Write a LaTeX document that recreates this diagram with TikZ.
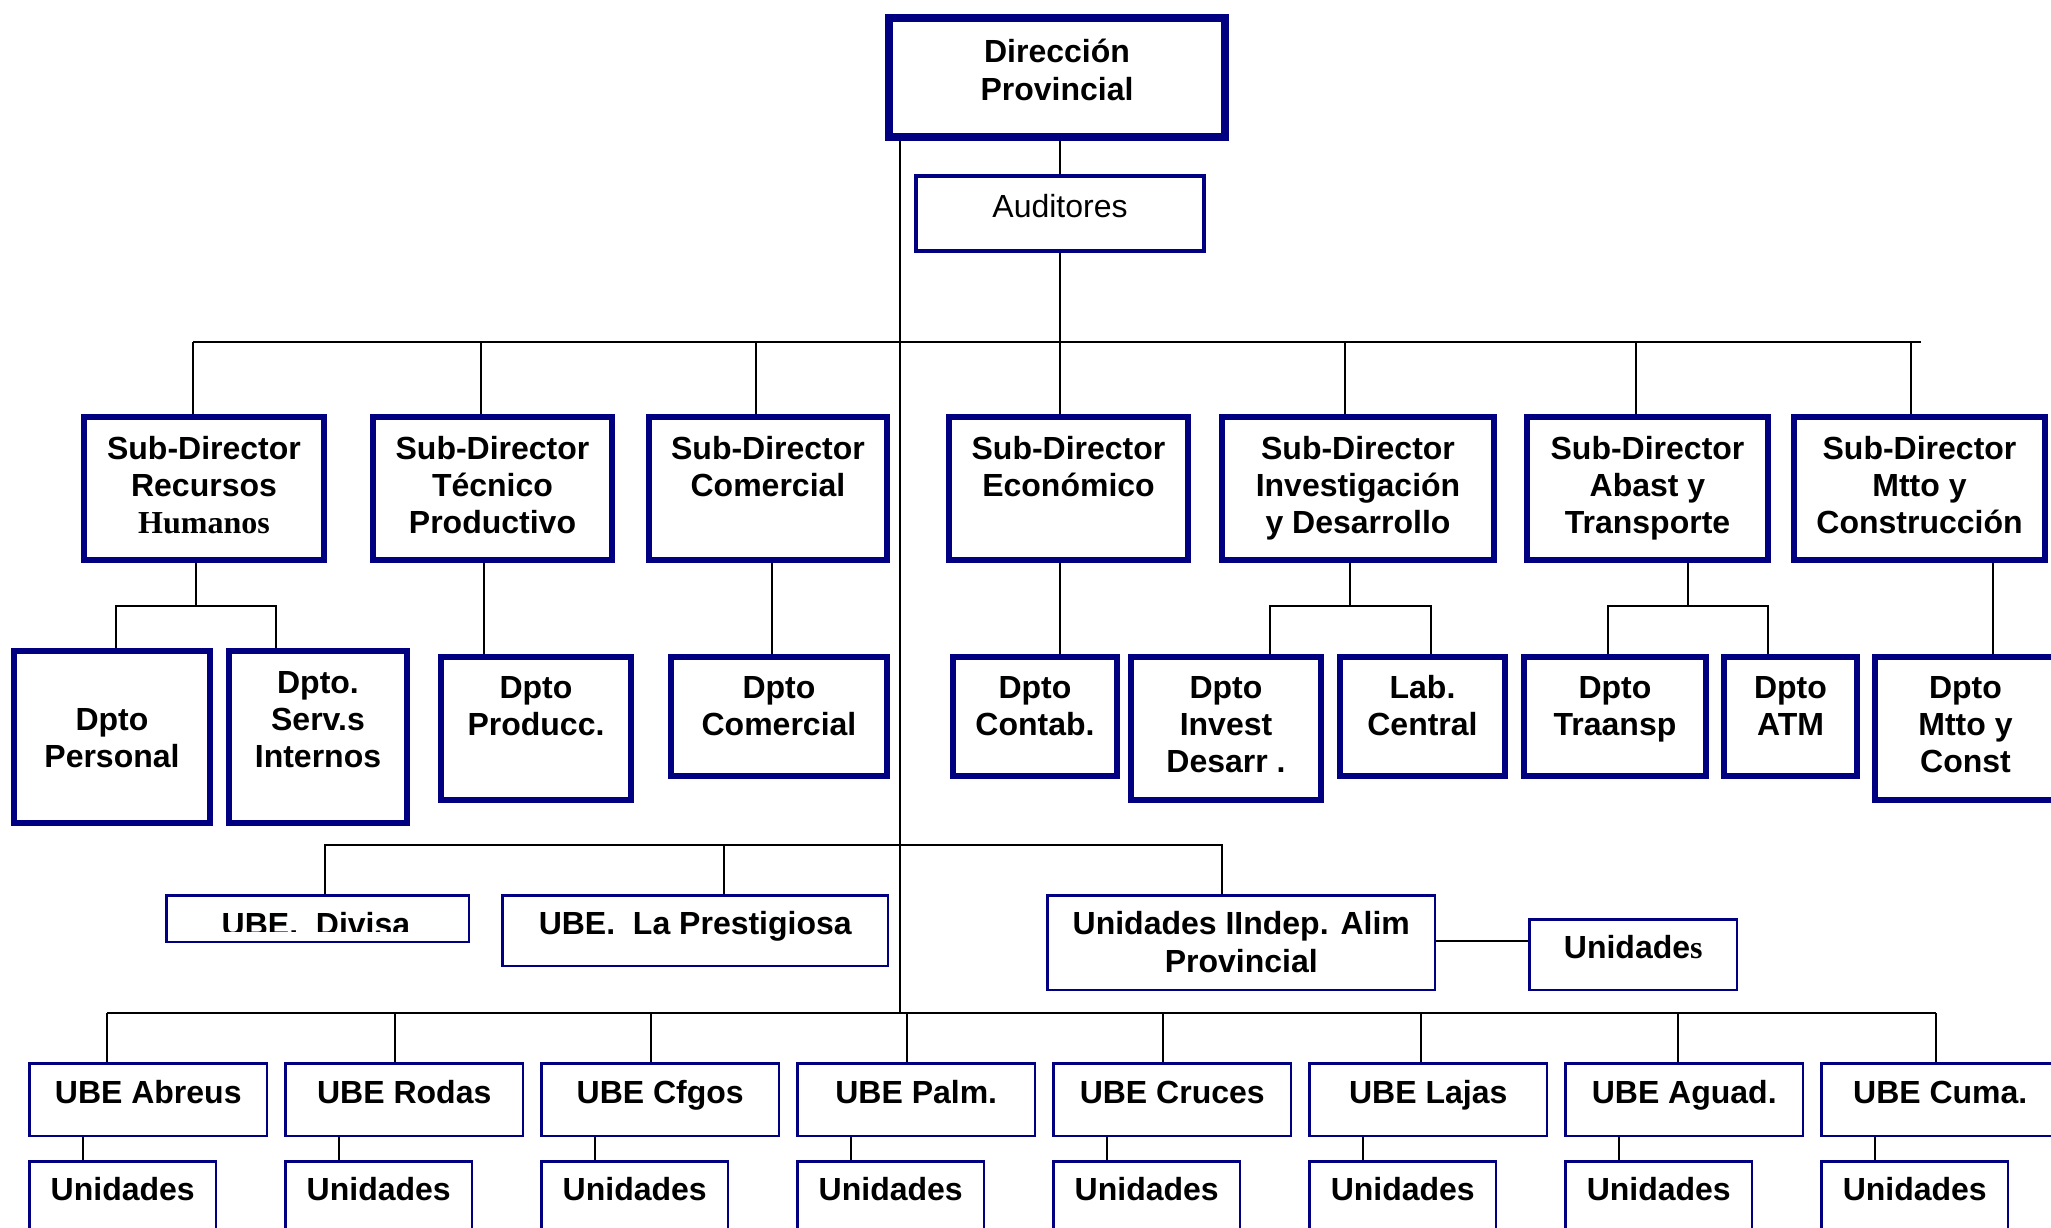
\documentclass[tikz,border=0pt]{standalone}
\usepackage{fontspec}
\setmainfont{Liberation Sans}
\newfontfamily\timesf{Liberation Serif}
\usetikzlibrary{backgrounds}
\definecolor{navy}{RGB}{0,0,128}
\newcommand\ml[1]{\begin{tabular}[t]{@{}c@{}}#1\end{tabular}}
% #1 style, #2 line width, #3 name, #4 L, #5 T, #6 R, #7 B, #8 first baseline, #9 text
\newcommand\obox[9]{%
 \pgfmathsetmacro\bxw{#6-#4-#2}%
 \pgfmathsetmacro\bxh{#8-#5-#2/2}%
 \pgfmathsetmacro\bxd{#7-#8-#2/2}%
 \node[#1, line width=#2pt, inner sep=0pt, minimum width=\bxw pt, text height=\bxh pt, text depth=\bxd pt, anchor=north west] (#3) at ({#4+#2/2},{#5+#2/2}) {\ml{#9}};%
}
\begin{document}
\begin{tikzpicture}[x=1pt,y=-1pt,
  font=\fontsize{32}{37}\selectfont\bfseries,
  bx/.style={draw=navy, fill=white},
  reg/.style={draw=navy, fill=white, font=\fontsize{32}{37}\selectfont\mdseries},
  ln/.style={draw=black, line width=2pt}]
\useasboundingbox (0,0) rectangle (2051,1227);
\clip (0,0) rectangle (2051,1227);

% top
\obox{bx}{8}{dir}{881}{10}{1225}{137}{58}{Dirección\\[1pt]Provincial}
\obox{reg}{4}{aud}{912}{172}{1204}{251}{215}{Auditores}

% sub-directors
\obox{bx}{6}{sRH}{78}{411}{324}{560}{456}{Sub-Director\\Recursos\\{\timesf Humanos}}
\obox{bx}{6}{sTec}{367}{411}{612}{560}{456}{Sub-Director\\Técnico\\Productivo}
\obox{bx}{6}{sCom}{643}{411}{887}{560}{456}{Sub-Director\\Comercial}
\obox{bx}{6}{sEco}{943}{411}{1188}{560}{456}{Sub-Director\\Económico}
\obox{bx}{6}{sInv}{1216}{411}{1494}{560}{456}{Sub-Director\\Investigación\\y Desarrollo}
\obox{bx}{6}{sAba}{1521}{411}{1768}{560}{456}{Sub-Director\\Abast y\\Transporte}
\obox{bx}{6}{sMtt}{1788}{411}{2045}{560}{456}{Sub-Director\\Mtto y\\Construcción}

% departments
\obox{bx}{6}{dPer}{8}{645}{210}{823}{727}{Dpto\\Personal}
\obox{bx}{6}{dSer}{223}{645}{407}{823}{690}{Dpto.\\Serv.s\\Internos}
\obox{bx}{6}{dPro}{435}{651}{631}{800}{695}{Dpto\\Producc.}
\obox{bx}{6}{dCom}{665}{651}{887}{776}{695}{Dpto\\Comercial}
\obox{bx}{6}{dCon}{947}{651}{1117}{776}{695}{Dpto\\Contab.}
\obox{bx}{6}{dInv}{1125}{651}{1321}{800}{695}{Dpto\\Invest\\Desarr .}
\obox{bx}{6}{dLab}{1334}{651}{1505}{776}{695}{Lab.\\Central}
\obox{bx}{6}{dTra}{1518}{651}{1706}{776}{695}{Dpto\\Traansp}
\obox{bx}{6}{dATM}{1718}{651}{1857}{776}{695}{Dpto\\ATM}
\obox{bx}{6}{dMtt}{1869}{651}{2056}{800}{695}{Dpto\\Mtto y\\Const}

% middle row
\obox{bx}{2.5}{uDiv}{164}{893}{469}{942}{935}{}
\begin{scope}
\clip (164,893) rectangle (469,931.5);
\node[anchor=base, inner sep=0pt] (tDiv) at (316,935) {UBE.\ \ Divisa};
\end{scope}
\obox{bx}{2.5}{uPre}{500}{893}{888}{966}{933}{UBE.\ \ La Prestigiosa}
\obox{bx}{2.5}{uAli}{1045}{893}{1435}{990}{933}{Unidades IIndep. Alim\\[1pt]Provincial}
\obox{bx}{2.5}{uUni}{1527}{917}{1737}{990}{957}{Unidade{\timesf s}}

% UBE row
\foreach \i/\t in {0/Abreus,1/Rodas,2/Cfgos,3/Palm.,4/Cruces,5/Lajas,6/Aguad.,7/Cuma.}{
  \pgfmathsetmacro\L{27+256*\i}
  \obox{bx}{2.5}{ube\i}{\L}{1061}{\L+240}{1136}{1102}{UBE \t}
  \obox{bx}{2.5}{uni\i}{\L}{1159}{\L+189}{1260}{1199}{Unidades}
}

\begin{pgfonlayer}{background}
% trunk
\coordinate (trk) at (900,1013);
\draw[ln] (dir.south -| trk) -- (trk);
\draw[ln] (dir.south -| aud.north) -- (aud.north);
\draw[ln] (aud.south) -- (sEco.north -| aud.south);
% top bus
\coordinate (b1L) at (193,342);
\coordinate (b1R) at (1921,342);
\draw[ln] (b1L) -- (b1R);
\foreach \n/\x in {sRH/193, sTec/481, sCom/756, sInv/1345, sAba/1636, sMtt/1911}
  \draw[ln] (\x,342) -- (\n.north -| \x,0);
% sub-director to departments
\draw[ln] (sRH.south -| 196,0) -- (196,606);
\draw[ln] (dPer.north -| 116,0) |- (276,606) -- (dSer.north -| 276,0);
\draw[ln] (sTec.south -| 484,0) -- (dPro.north -| 484,0);
\draw[ln] (sCom.south -| 772,0) -- (dCom.north -| 772,0);
\draw[ln] (sEco.south -| 1060,0) -- (dCon.north -| 1060,0);
\draw[ln] (sInv.south -| 1350,0) -- (1350,606);
\draw[ln] (dInv.north -| 1270,0) |- (1431,606) -- (dLab.north -| 1431,0);
\draw[ln] (sAba.south -| 1688,0) -- (1688,606);
\draw[ln] (dTra.north -| 1608,0) |- (1768,606) -- (dATM.north -| 1768,0);
\draw[ln] (sMtt.south -| 1993,0) -- (dMtt.north -| 1993,0);
% middle bus
\draw[ln] (uDiv.north -| 325,0) |- (1222,845) -- (uAli.north -| 1222,0);
\draw[ln] (724,845) -- (uPre.north -| 724,0);
\draw[ln] (uAli.east |- 0,941) -- (uUni.west |- 0,941);
% bottom bus
\draw[ln] (107,1013) -- (1936,1013);
\foreach \i/\x in {0/107,1/395,2/651,3/907,4/1163,5/1421,6/1678,7/1936}
  \draw[ln] (\x,1013) -- (ube\i.north -| \x,0);
\foreach \i in {0,...,7}{
  \pgfmathsetmacro\X{27+256*\i+56}
  \draw[ln] (ube\i.south -| \X,0) -- (uni\i.north -| \X,0);
}
\end{pgfonlayer}
\end{tikzpicture}
\end{document}
